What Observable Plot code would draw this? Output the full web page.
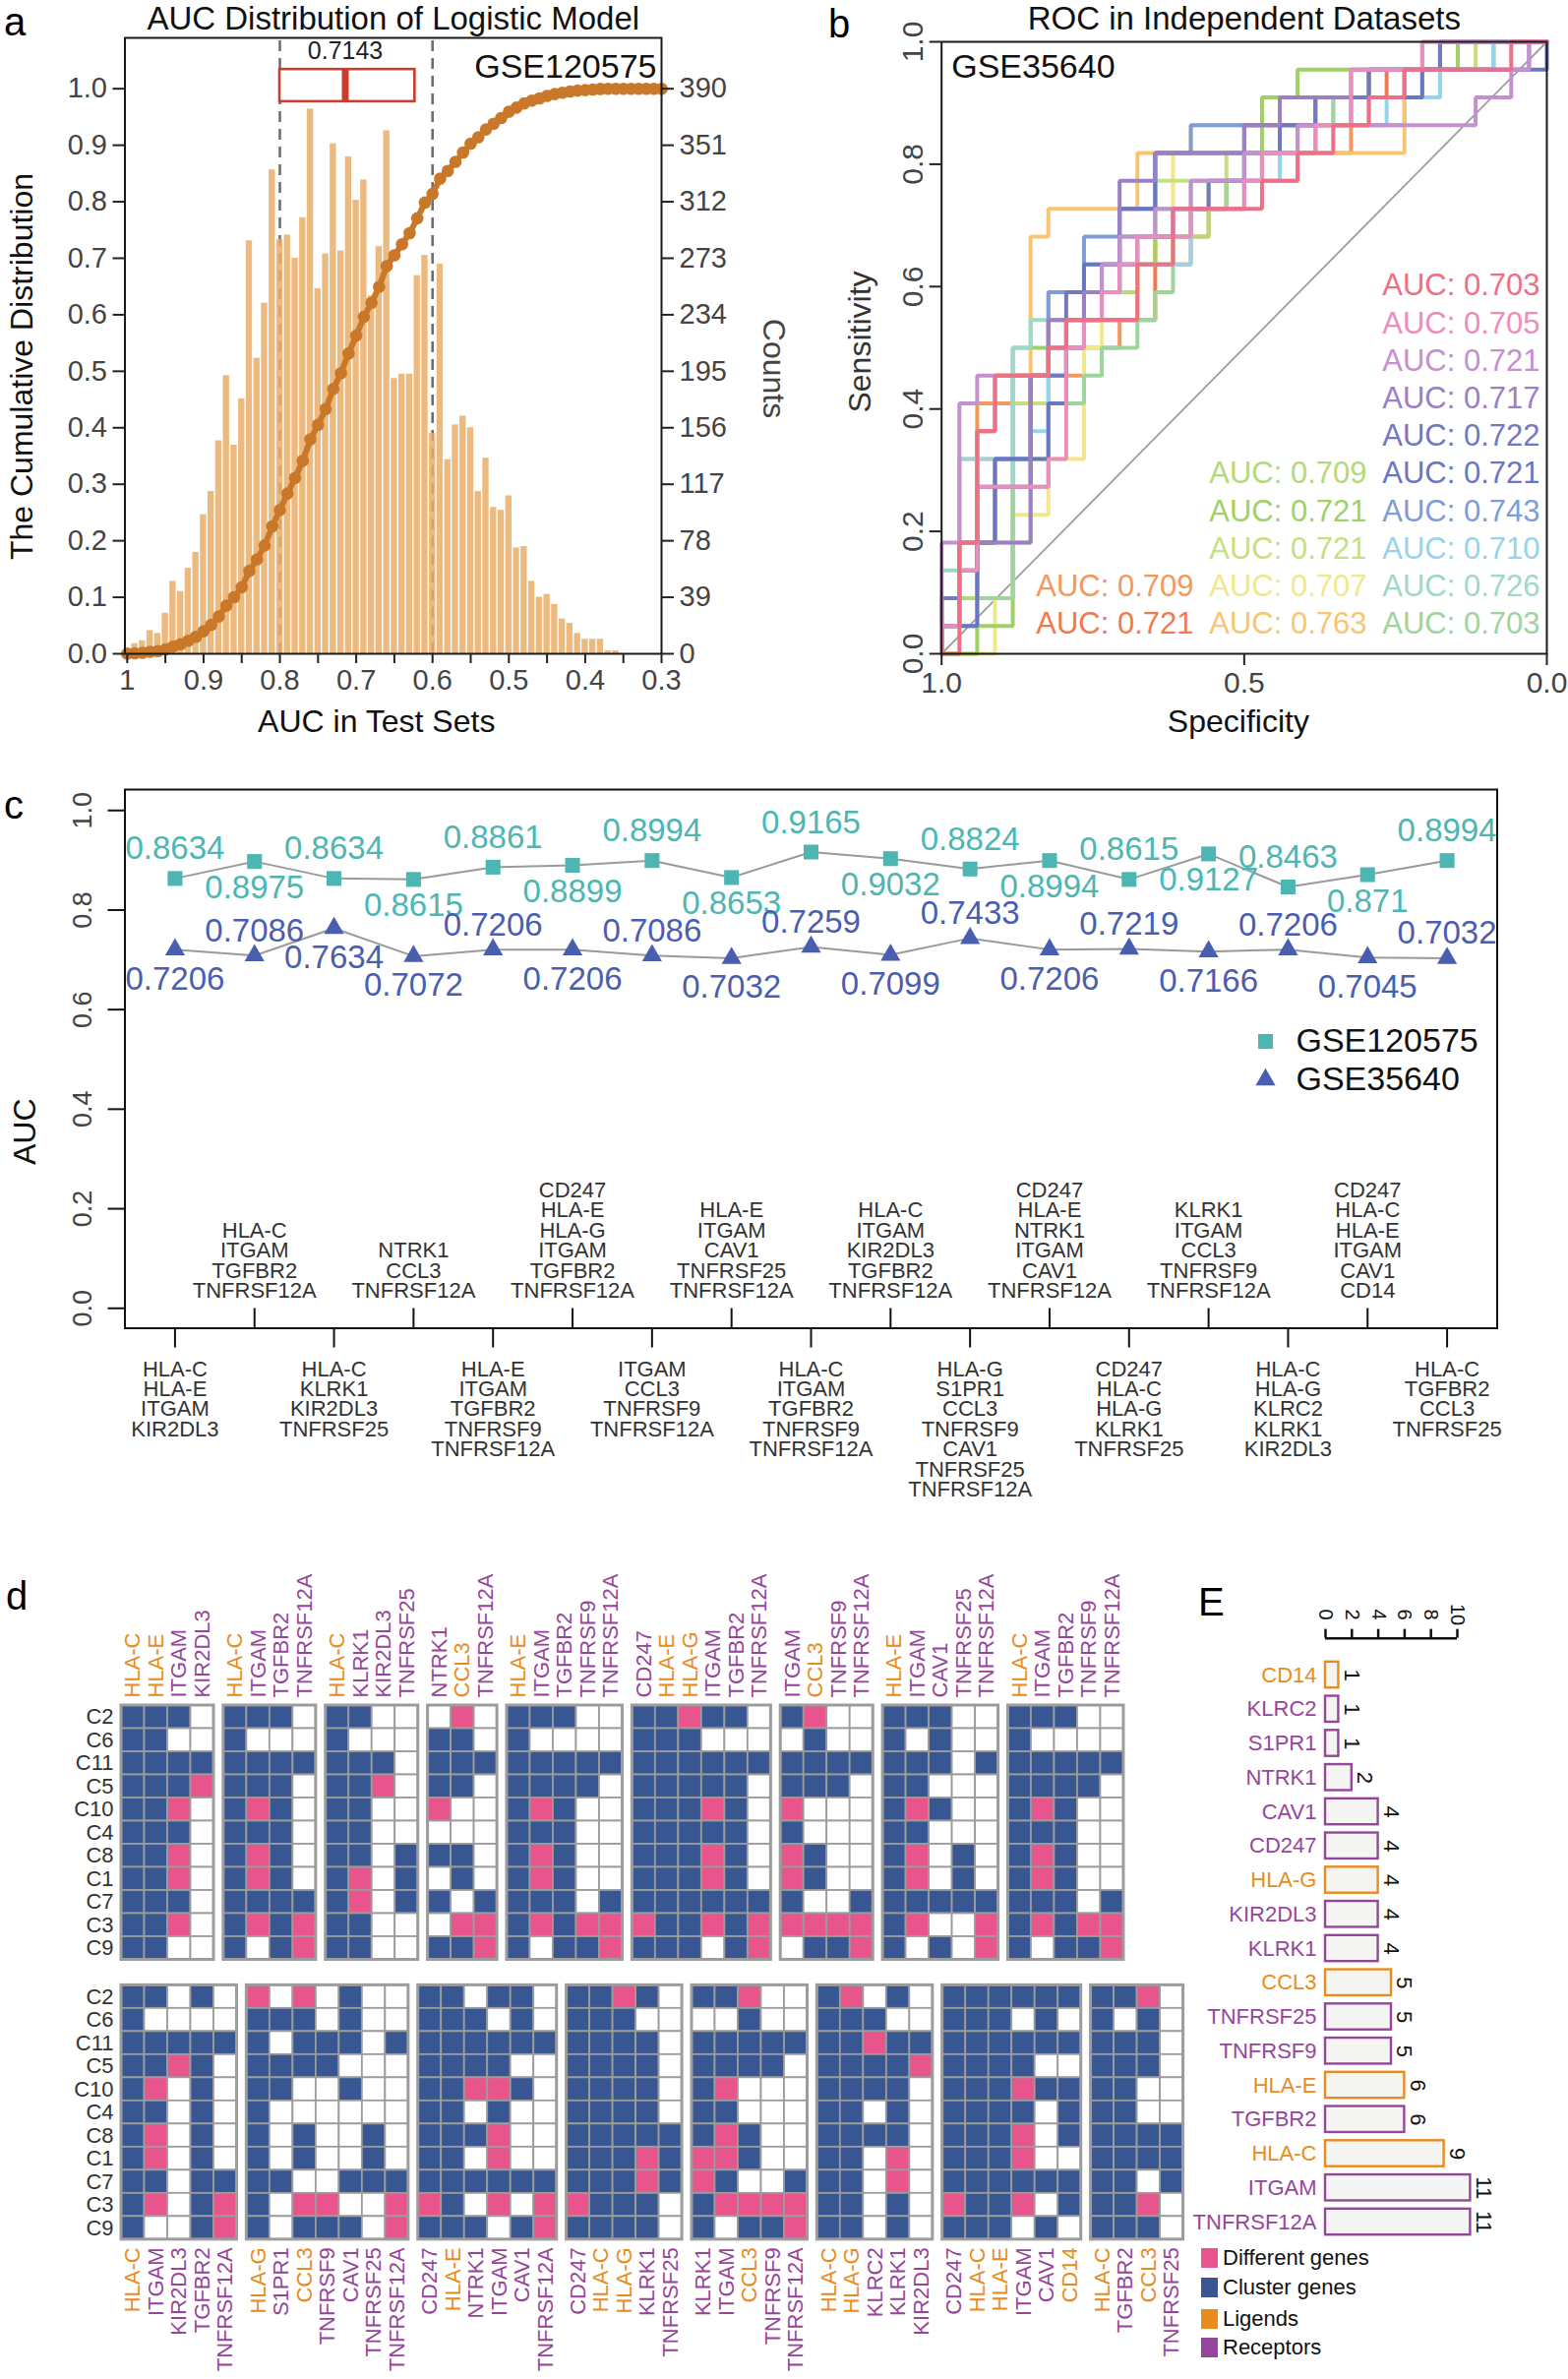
<!DOCTYPE html>
<html><head><meta charset="utf-8">
<script src="https://cdn.jsdelivr.net/npm/d3@7"></script>
<script src="https://cdn.jsdelivr.net/npm/@observablehq/plot@0.6"></script>
<style>
body{margin:0;background:#fff;}
#root{position:relative;width:1594px;height:2418px;overflow:hidden;background:#fff;font-family:"Liberation Sans",Arial,Helvetica,sans-serif;}
</style></head><body><div id="root"></div>
<script>
// ---------------- DATA ----------------
// Panel a: histogram of AUC in test sets (bin centres, counts) + box summary
const aucBins = [1,0.99,0.98,0.97,0.96,0.95,0.94,0.93,0.92,0.91,0.9,0.89,0.88,0.87,0.86,0.85,0.84,0.83,0.82,0.81,0.8,0.79,0.78,0.77,0.76,0.75,0.74,0.73,0.72,0.71,0.7,0.69,0.68,0.67,0.66,0.65,0.64,0.63,0.62,0.61,0.6,0.59,0.58,0.57,0.56,0.55,0.54,0.53,0.52,0.51,0.5,0.49,0.48,0.47,0.46,0.45,0.44,0.43,0.42,0.41,0.4,0.39,0.38,0.37,0.36,0.35,0.34,0.33,0.32,0.31,0.3];
const binCounts = [2,7,9,16,14,28,50,43,59,70,96,112,147,192,144,176,285,204,242,334,286,289,273,301,376,252,276,352,278,343,313,327,247,281,361,190,193,193,261,275,152,269,134,158,164,156,112,135,101,99,109,73,74,50,39,41,34,24,21,14,10,10,10,2,2,0,0,0,0,0,0];
const countTicks = [0,39,78,117,156,195,234,273,312,351,390];
const cumTicks = [0,0.1,0.2,0.3,0.4,0.5,0.6,0.7,0.8,0.9,1.0];
const xTicksA = [1,0.9,0.8,0.7,0.6,0.5,0.4,0.3];
const xMinorA = [0.95,0.85,0.75,0.65,0.55,0.45,0.35];
const cutoffs = [0.8,0.6];
const boxLow = 0.8, boxMedian = 0.7143, boxHigh = 0.623;

// Panel b: ROC curves in GSE35640 (34 non-responders, 22 responders)
const rocNeg = 34, rocPos = 22;
const rocAUC = [0.721,0.709,0.763,0.707,0.721,0.721,0.709,0.703,0.726,0.710,0.743,0.721,0.722,0.717,0.721,0.705,0.703];
const rocColors = ["#EF7A4E","#F3995F","#F8C672","#F0E88A","#C6DF80","#9FD166","#B3DA7A","#9DD59C","#9ED8C6","#98D3EC","#7E9CD6","#6A76C3","#7478C0","#9B80C2","#C490CE","#EA8DBF","#EE6F86"];
// [false positives, true positives] reached at each step of the curve
const rocSteps = [
 [[0,2],[2,8],[3,10],[6,11],[8,12],[12,15],[14,16],[16,17],[18,18],[21,19],[23,20],[25,21],[28,22]],
 [[0,1],[1,2],[2,9],[4,10],[8,11],[10,12],[11,14],[14,15],[15,16],[17,17],[20,18],[23,19],[26,20],[28,21],[31,22]],
 [[0,1],[1,7],[5,15],[6,16],[11,18],[26,21],[30,22]],
 [[3,2],[4,5],[6,7],[8,11],[9,13],[11,14],[12,16],[13,18],[14,19],[18,20],[24,21],[30,22]],
 [[0,2],[2,4],[4,9],[6,11],[8,13],[10,15],[12,17],[16,18],[19,19],[22,20],[26,21],[30,22]],
 [[2,1],[4,11],[6,12],[8,13],[10,14],[12,15],[14,16],[16,17],[18,20],[20,21],[29,22]],
 [[0,1],[1,2],[4,4],[5,7],[6,10],[7,12],[9,13],[11,14],[13,15],[15,17],[18,18],[21,19],[23,20],[26,21],[31,22]],
 [[0,1],[2,2],[4,6],[6,9],[8,10],[9,11],[11,12],[12,13],[13,15],[14,16],[16,17],[18,18],[20,19],[22,20],[24,21],[27,22]],
 [[0,3],[2,4],[3,6],[4,11],[5,12],[6,13],[8,14],[10,15],[12,16],[14,17],[17,18],[20,19],[24,20],[27,21],[31,22]],
 [[0,1],[1,7],[5,8],[6,12],[8,13],[10,14],[14,16],[17,17],[19,18],[21,19],[25,20],[28,21],[31,22]],
 [[0,2],[1,4],[3,7],[5,10],[6,13],[8,15],[10,16],[12,18],[14,19],[19,20],[24,21],[28,22]],
 [[0,1],[2,4],[3,7],[6,9],[7,11],[8,14],[10,16],[12,18],[17,19],[21,20],[27,21],[34,22]],
 [[0,2],[1,3],[2,6],[5,10],[7,13],[9,14],[11,15],[13,16],[15,17],[17,18],[19,19],[21,20],[24,21],[28,22]],
 [[0,1],[1,4],[5,10],[6,12],[8,13],[10,17],[12,18],[17,19],[19,20],[23,21],[33,22]],
 [[0,4],[1,9],[2,10],[6,11],[8,12],[9,14],[10,15],[12,16],[14,17],[17,18],[20,19],[30,20],[32,21],[33,22]],
 [[0,1],[1,3],[2,6],[6,7],[7,11],[8,12],[9,13],[10,14],[11,15],[14,16],[17,17],[18,18],[21,19],[23,21],[27,22]],
 [[1,4],[2,8],[3,10],[6,11],[7,12],[11,14],[13,16],[18,17],[20,18],[22,19],[24,20],[26,21],[32,22]]
];

// Panel c: gene combinations and AUCs
const combos = [
 ["HLA-C","HLA-E","ITGAM","KIR2DL3"],
 ["HLA-C","ITGAM","TGFBR2","TNFRSF12A"],
 ["HLA-C","KLRK1","KIR2DL3","TNFRSF25"],
 ["NTRK1","CCL3","TNFRSF12A"],
 ["HLA-E","ITGAM","TGFBR2","TNFRSF9","TNFRSF12A"],
 ["CD247","HLA-E","HLA-G","ITGAM","TGFBR2","TNFRSF12A"],
 ["ITGAM","CCL3","TNFRSF9","TNFRSF12A"],
 ["HLA-E","ITGAM","CAV1","TNFRSF25","TNFRSF12A"],
 ["HLA-C","ITGAM","TGFBR2","TNFRSF9","TNFRSF12A"],
 ["HLA-C","ITGAM","KIR2DL3","TGFBR2","TNFRSF12A"],
 ["HLA-G","S1PR1","CCL3","TNFRSF9","CAV1","TNFRSF25","TNFRSF12A"],
 ["CD247","HLA-E","NTRK1","ITGAM","CAV1","TNFRSF12A"],
 ["CD247","HLA-C","HLA-G","KLRK1","TNFRSF25"],
 ["KLRK1","ITGAM","CCL3","TNFRSF9","TNFRSF12A"],
 ["HLA-C","HLA-G","KLRC2","KLRK1","KIR2DL3"],
 ["CD247","HLA-C","HLA-E","ITGAM","CAV1","CD14"],
 ["HLA-C","TGFBR2","CCL3","TNFRSF25"]
];
const aucTrain = [0.8634,0.8975,0.8634,0.8615,0.8861,0.8899,0.8994,0.8653,0.9165,0.9032,0.8824,0.8994,0.8615,0.9127,0.8463,0.871,0.8994];
const aucTest  = [0.7206,0.7086,0.7634,0.7072,0.7206,0.7206,0.7086,0.7032,0.7259,0.7099,0.7433,0.7206,0.7219,0.7166,0.7206,0.7045,0.7032];
const seriesNames = ["GSE120575","GSE35640"];
const cTicks = [0,0.2,0.4,0.6,0.8,1.0];

// Panel d: clusters and gene status per cluster (0 none, 1 cluster gene, 2 different gene)
const clusters = ["C2","C6","C11","C5","C10","C4","C8","C1","C7","C3","C9"];
const statusGenes = ["HLA-C","HLA-E","HLA-G","ITGAM","KIR2DL3","TGFBR2","TNFRSF12A","KLRK1","TNFRSF25","NTRK1","CCL3","TNFRSF9","CD247","CAV1","S1PR1","KLRC2","CD14"];
const statusCodes = ["11111111111","11111111111","21111111111","10112122120","00120000000","10111111111","00100000122","10111112211","00000011100","01112010101","21110011021","00110000021","11111111121","11101000101","01011000100","01211010000","10101110110"];
const ligands = ["HLA-C","HLA-E","HLA-G","CCL3","CD14"];
const topGroups = [0,1,2,3,4,5,6,7,8];
const bottomGroups = [9,10,11,12,13,14,15,16];

// Panel E: frequency of genes in the combinations
const eGenes = ["CD14","KLRC2","S1PR1","NTRK1","CAV1","CD247","HLA-G","KIR2DL3","KLRK1","CCL3","TNFRSF25","TNFRSF9","HLA-E","TGFBR2","HLA-C","ITGAM","TNFRSF12A"];
const eCounts = [1,1,1,2,4,4,4,4,4,5,5,5,6,6,9,11,11];
const eTicks = [0,2,4,6,8,10];
const legendLabels = ["Different genes","Cluster genes","Ligends","Receptors"];

// ---------------- STYLE / HELPERS ----------------
const FONT = '"Liberation Sans", Arial, Helvetica, sans-serif';
const ORANGE = "#E88C1E", PURPLE = "#96469A";
const NAVY = "#385692", PINK = "#E8548C";
const root = document.getElementById("root");
const baseStyle = {background:"transparent", fontFamily: FONT, overflow:"visible", maxWidth:"none"};
function place(svg, left, top){
  const d = document.createElement("div");
  d.style.cssText = `position:absolute;left:${left}px;top:${top}px;`;
  d.appendChild(svg); root.appendChild(d);
}
function htmlText(s, left, top, size, color){
  const d = document.createElement("div");
  d.textContent = s;
  d.style.cssText = `position:absolute;left:${left}px;top:${top}px;font-size:${size}px;color:${color};line-height:1;white-space:nowrap;font-family:${FONT};`;
  root.appendChild(d);
}
const t = d => d;

// ---------------- PANEL a ----------------
{
  const W=830, H=770, fl=126.5, fr=672, ft=38, fb=664, yMax=1.09;
  const total = d3.sum(binCounts);
  const cum = d3.cumsum(binCounts);
  const hist = aucBins.map((b,i)=>({auc:b, frac: binCounts[i]/390, cum: cum[i]/total}));
  const CUR = "#C9782A", RED = "#CC3B2E";
  const svg = Plot.plot({
    width: W, height: H, marginLeft: fl, marginRight: W-fr, marginTop: ft, marginBottom: H-fb,
    style: baseStyle,
    x: {domain:[1.003, 0.3], label:null}, y: {domain:[0, yMax], label:null},
    marks: [
      Plot.ruleX(cutoffs, {y1:0, y2:yMax, stroke:"#6f6f6f", strokeWidth:2.6, strokeDasharray:"11,7"}),
      Plot.rect(hist, {x1: d=>d.auc+0.005, x2: d=>d.auc-0.005, y1: 0, y2: "frac", fill:"#E9AE68", fillOpacity:0.85, insetLeft:0.7, insetRight:0.7}),
      Plot.line(hist, {x:"auc", y:"cum", stroke:CUR, strokeWidth:6}),
      Plot.dot(hist, {x:"auc", y:"cum", r:6.3, fill:CUR}),
      Plot.rect([{lo:boxLow, hi:boxHigh}], {x1:"lo", x2:"hi", y1:0.977, y2:1.034, fill:"white", stroke:RED, strokeWidth:2.6}),
      Plot.ruleX([boxMedian], {y1:0.977, y2:1.034, stroke:RED, strokeWidth:7}),
      Plot.text([boxMedian], {x:t, y:1.066, text:d=>String(d), fontSize:25, fill:"#222"}),
      Plot.text(["GSE120575"], {frameAnchor:"top-right", dx:-5, dy:30, textAnchor:"end", lineAnchor:"middle", text:t, fontSize:34, fill:"#111"}),
      Plot.frame({stroke:"#1a1a1a", strokeWidth:2}),
      Plot.axisY({ticks:cumTicks, tickFormat:d=>d.toFixed(1), tickSize:12, tickPadding:6, fontSize:29, fill:"#444", stroke:"#222", strokeWidth:2, label:null}),
      Plot.axisY({anchor:"right", ticks:countTicks.map(c=>c/390), tickFormat:d=>String(Math.round(d*390)), tickSize:12, tickPadding:6, fontSize:29, fill:"#444", stroke:"#222", strokeWidth:2, label:null}),
      Plot.axisX({ticks:xTicksA, tickFormat:d=>d===1?"1":d.toFixed(1), tickSize:10, tickPadding:6, fontSize:29, fill:"#444", stroke:"#222", strokeWidth:2, label:null}),
      Plot.axisX({ticks:xMinorA, tickFormat:()=>"", tickSize:10, stroke:"#222", strokeWidth:2, label:null}),
      Plot.text(["AUC Distribution of Logistic Model"], {frameAnchor:"top", dy:-19, text:t, lineAnchor:"middle", fontSize:33, fill:"#111"}),
      Plot.text(["The Cumulative Distribution"], {frameAnchor:"left", dx:22-fl, dy:21, rotate:-90, textAnchor:"middle", lineAnchor:"middle", text:t, fontSize:32, fill:"#111"}),
      Plot.text(["Counts"], {frameAnchor:"right", dx:786-fr, dy:23, rotate:90, textAnchor:"middle", lineAnchor:"middle", text:t, fontSize:32, fill:"#444"}),
      Plot.text(["AUC in Test Sets"], {frameAnchor:"bottom", dy:733-fb, dx:-17, text:t, lineAnchor:"middle", fontSize:32, fill:"#111"})
    ]
  });
  place(svg, 0, 0);
}

// ---------------- PANEL b ----------------
{
  const L=830, W=764, H=770, flAbs=956.7, frAbs=1572, ft=42, fb=664;
  const fl=flAbs-L, fw=frAbs-flAbs, fh=fb-ft;
  const paths = rocSteps.map(steps=>{
    const pts=[{f:0,p:0}]; let p=0;
    for (const [f,tp] of steps){ pts.push({f,p}); pts.push({f,p:tp}); p=tp; }
    pts.push({f:rocNeg,p});
    return pts.map(d=>({spec:1-d.f/rocNeg, sens:d.p/rocPos}));
  });
  // legend slots (three right-aligned columns, filled bottom-up)
  const colRightAbs = [1213,1389,1565], rowTopAbs = 290, rowStep = 38.2;
  const labels = rocAUC.map((a,i)=>{
    let col, row;
    if (i<2){col=0; row=9-i;} else if (i<7){col=1; row=9-(i-2);} else {col=2; row=9-(i-7);}
    return {spec: 1-(colRightAbs[col]-flAbs)/fw, sens: 1-(rowTopAbs+row*rowStep-ft)/fh, text:"AUC: "+a.toFixed(3), c: rocColors[i]};
  });
  const svg = Plot.plot({
    width: W, height: H, marginLeft: fl, marginRight: W-(frAbs-L), marginTop: ft, marginBottom: H-fb,
    style: baseStyle, color:{type:"identity"},
    x:{domain:[1,0], label:null}, y:{domain:[0,1], label:null},
    marks: [
      Plot.line([{spec:1,sens:0},{spec:0,sens:1}], {x:"spec", y:"sens", stroke:"#9d9d9d", strokeWidth:1.8}),
      ...paths.map((p,i)=>Plot.line(p, {x:"spec", y:"sens", stroke:rocColors[i], strokeWidth:4, strokeLinejoin:"miter"})),
      Plot.text(labels, {x:"spec", y:"sens", text:"text", fill:"c", textAnchor:"end", fontSize:31}),
      Plot.text(["GSE35640"], {frameAnchor:"top-left", dx:10, dy:26, textAnchor:"start", lineAnchor:"middle", text:t, fontSize:34, fill:"#111"}),
      Plot.frame({stroke:"#1a1a1a", strokeWidth:2}),
      Plot.axisY({ticks:cTicks, tickFormat:()=>"", tickSize:12, stroke:"#222", strokeWidth:2, label:null}),
      Plot.text(cTicks, {y:t, frameAnchor:"left", dx:-29, rotate:-90, textAnchor:"middle", lineAnchor:"middle", text:d=>d.toFixed(1), fontSize:30, fill:"#444"}),
      Plot.axisX({ticks:[1,0.5,0], tickFormat:d=>d.toFixed(1), tickSize:12, tickPadding:6, fontSize:30, fill:"#444", stroke:"#222", strokeWidth:2, label:null}),
      Plot.text(["ROC in Independent Datasets"], {frameAnchor:"top", dy:-23, text:t, lineAnchor:"middle", fontSize:33, fill:"#111"}),
      Plot.text(["Sensitivity"], {frameAnchor:"left", dx:-82, dy:-6, rotate:-90, textAnchor:"middle", lineAnchor:"middle", text:t, fontSize:32, fill:"#333"}),
      Plot.text(["Specificity"], {frameAnchor:"bottom", dy:733-fb, dx:-6, text:t, lineAnchor:"middle", fontSize:32, fill:"#111"})
    ]
  });
  place(svg, L, 0);
}

// ---------------- PANEL c ----------------
{
  const T=770, W=1594, H=820, fl=126.5, fr=1521.5, ft=802-T, fb=1349.5-T;
  const yDom=[-0.04,1.042];
  const pxPerY=(fb-ft)/(yDom[1]-yDom[0]);
  const xDom=[0.37,17.63];
  const pxPerX=(fr-fl)/(xDom[1]-xDom[0]);
  const testLabelAbove = [false,true,false,false,true,false,true,false,true,false,true,false,true,false,true,false,true];
  const cData = combos.map((g,i)=>({idx:i+1, genes:g, train:aucTrain[i], test:aucTest[i], above:testLabelAbove[i]}));
  const odd = cData.filter(d=>d.idx%2===1), even = cData.filter(d=>d.idx%2===0);
  const CY="#4DB6B3", BL="#4A5EB0";
  const toX = px => xDom[0]+(px-fl)/pxPerX;
  const toY = py => yDom[1]-(py-T-ft)/pxPerY;
  const yLegTrain = toY(1058), yLegTest = toY(1097);
  const svg = Plot.plot({
    width:W, height:H, marginLeft:fl, marginRight:W-fr, marginTop:ft, marginBottom:H-fb,
    style: baseStyle,
    x:{domain:xDom, label:null, axis:null}, y:{domain:yDom, label:null},
    marks:[
      Plot.line(cData,{x:"idx", y:"train", stroke:"#9a9a9a", strokeWidth:2}),
      Plot.line(cData,{x:"idx", y:"test", stroke:"#9a9a9a", strokeWidth:2}),
      Plot.dot(cData,{x:"idx", y:"train", symbol:"square", r:8.5, fill:CY}),
      Plot.dot(cData,{x:"idx", y:"test", symbol:"triangle", r:7.5, fill:BL}),
      Plot.text(odd,{x:"idx", y:"train", text:d=>String(d.train), dy:-30, fontSize:33, fill:CY}),
      Plot.text(even,{x:"idx", y:"train", text:d=>String(d.train), dy:27, fontSize:33, fill:CY}),
      Plot.text(cData.filter(d=>d.above),{x:"idx", y:"test", text:d=>String(d.test), dy:-25, fontSize:33, fill:BL}),
      Plot.text(cData.filter(d=>!d.above),{x:"idx", y:"test", text:d=>String(d.test), dy:30, fontSize:33, fill:BL}),
      Plot.text(odd,{x:"idx", frameAnchor:"bottom", text:d=>d.genes.join("\n"), textAnchor:"middle", lineAnchor:"top", dy:34, fontSize:22, lineHeight:0.93, fill:"#333"}),
      Plot.text(even,{x:"idx", frameAnchor:"bottom", text:d=>d.genes.join("\n"), textAnchor:"middle", lineAnchor:"bottom", dy:-31, fontSize:22, lineHeight:0.93, fill:"#333"}),
      Plot.ruleX(odd,{x:"idx", y1:yDom[0], y2:yDom[0]-20/pxPerY, stroke:"#111", strokeWidth:2}),
      Plot.ruleX(even,{x:"idx", y1:yDom[0], y2:yDom[0]+20/pxPerY, stroke:"#111", strokeWidth:2}),
      Plot.frame({stroke:"#111", strokeWidth:2}),
      Plot.axisY({ticks:cTicks, tickFormat:()=>"", tickSize:17, stroke:"#111", strokeWidth:2, label:null}),
      Plot.text(cTicks,{y:t, frameAnchor:"left", dx:-42.5, rotate:-90, textAnchor:"middle", lineAnchor:"middle", text:d=>d.toFixed(1), fontSize:27, fill:"#444"}),
      Plot.text(["AUC"],{frameAnchor:"left", dx:-101, dy:74, rotate:-90, textAnchor:"middle", lineAnchor:"middle", text:t, fontSize:32, fill:"#111"}),
      Plot.dot([seriesNames[0]],{x:toX(1286), y:yLegTrain, symbol:"square", r:8.5, fill:CY}),
      Plot.dot([seriesNames[1]],{x:toX(1286), y:yLegTest, symbol:"triangle", r:7.5, fill:BL}),
      Plot.text([seriesNames[0]],{x:toX(1317), y:yLegTrain, text:t, textAnchor:"start", fontSize:34, fill:"#111"}),
      Plot.text([seriesNames[1]],{x:toX(1317), y:yLegTest, text:t, textAnchor:"start", fontSize:34, fill:"#111"})
    ]
  });
  place(svg, 0, T);
}

// ---------------- PANEL d ----------------
{
  const L=0, T=1590, W=1230, H=828;
  const cell=23.5, gap=0.42, rowGap=12.1, ml=123, mt=1733-T;
  const statusFill = {"0":"#FFFFFF","1":NAVY,"2":PINK};
  const cells=[], frames=[], colLabels=[], rowLabels=[];
  [topGroups, bottomGroups].forEach((gs,h)=>{
    let x=0; const y0=h*rowGap;
    clusters.forEach((c,r)=>rowLabels.push({c, y:y0+r+0.5}));
    gs.forEach(g=>{
      const gx=x;
      combos[g].forEach(gene=>{
        const codes = statusCodes[statusGenes.indexOf(gene)];
        clusters.forEach((c,r)=>cells.push({x0:x, y0:y0+r, s:codes[r]}));
        colLabels.push({x:x+0.5, gene, h, c: ligands.includes(gene)?ORANGE:PURPLE});
        x+=1;
      });
      frames.push({x1:gx, x2:x, y1:y0, y2:y0+clusters.length});
      x+=gap;
    });
  });
  const xMax = d3.max(frames, f=>f.x2);
  const yMax = rowGap+clusters.length;
  const svg = Plot.plot({
    width:W, height:H, marginLeft:ml, marginRight:W-ml-xMax*cell, marginTop:mt, marginBottom:H-mt-yMax*cell,
    style: baseStyle, color:{type:"identity"},
    x:{domain:[0,xMax], axis:null}, y:{domain:[0,yMax], reverse:true, axis:null},
    marks:[
      Plot.rect(cells,{x1:"x0", x2:d=>d.x0+1, y1:"y0", y2:d=>d.y0+1, fill:d=>statusFill[d.s], stroke:"#9c9c9c", strokeWidth:1.8}),
      Plot.rect(frames,{x1:"x1", x2:"x2", y1:"y1", y2:"y2", fill:"none", stroke:"#9c9c9c", strokeWidth:3}),
      Plot.text(rowLabels,{x:0, y:"y", text:"c", textAnchor:"end", dx:-8, fontSize:22, fill:"#333"}),
      Plot.text(colLabels.filter(d=>d.h===0),{x:"x", y:0, dy:-8, rotate:-90, textAnchor:"start", text:"gene", fill:"c", fontSize:22}),
      Plot.text(colLabels.filter(d=>d.h===1),{x:"x", y:yMax, dy:8, rotate:-90, textAnchor:"end", text:"gene", fill:"c", fontSize:22})
    ]
  });
  place(svg, L, T);
}

// ---------------- PANEL E ----------------
{
  const L=1200, T=1590, W=394, H=828;
  const x0=1347-L, unit=13.4, rowStep=34.75, firstRow=1702-T;
  const mt = firstRow-rowStep/2, n=eGenes.length, mb = H-(mt+n*rowStep);
  const eData = eGenes.map((g,i)=>({g, i, v:eCounts[i], c: ligands.includes(g)?ORANGE:PURPLE}));
  const axisRow = -0.5 - 20/rowStep;
  const svg = Plot.plot({
    width:W, height:H, marginLeft:x0, marginRight:W-x0-10*unit, marginTop:mt, marginBottom:mb,
    style: baseStyle, color:{type:"identity"},
    x:{domain:[0,10], axis:null}, y:{domain:[-0.5,n-0.5], reverse:true, axis:null},
    marks:[
      Plot.rect(eData,{x1:0, x2:"v", y1:d=>d.i-0.38, y2:d=>d.i+0.38, fill:"#F4F4F2", stroke:"c", strokeWidth:2.4}),
      Plot.text(eData,{x:0, y:"i", dx:-9, text:"g", textAnchor:"end", fill:"c", fontSize:22}),
      Plot.text(eData,{x:"v", y:"i", dx:13, text:d=>String(d.v), rotate:90, fontSize:22, fill:"#111"}),
      Plot.ruleY([axisRow],{x1:0, x2:10, stroke:"#111", strokeWidth:2.5}),
      Plot.ruleX(eTicks,{x:t, y1:axisRow, y2:axisRow-9/rowStep, stroke:"#111", strokeWidth:2.5}),
      Plot.text(eTicks,{x:t, y:axisRow, dy:-24, rotate:90, text:d=>String(d), fontSize:20, fill:"#111"})
    ]
  });
  place(svg, L, T);
  // legend
  const legendColors = [PINK, NAVY, ORANGE, PURPLE];
  const legendY = [2295, 2325, 2357, 2386];
  legendLabels.forEach((s,i)=>{
    const sq = document.createElement("div");
    sq.style.cssText = `position:absolute;left:1221px;top:${legendY[i]-10}px;width:17px;height:20px;background:${legendColors[i]};`;
    root.appendChild(sq);
    htmlText(s, 1243, legendY[i]-11, 22, "#111");
  });
}

// panel letters
htmlText("a", 4, 2, 40, "#000");
htmlText("b", 842, 4, 40, "#000");
htmlText("c", 4, 798, 40, "#000");
htmlText("d", 6, 1602, 40, "#000");
htmlText("E", 1218, 1608, 40, "#000");
</script></body></html>
